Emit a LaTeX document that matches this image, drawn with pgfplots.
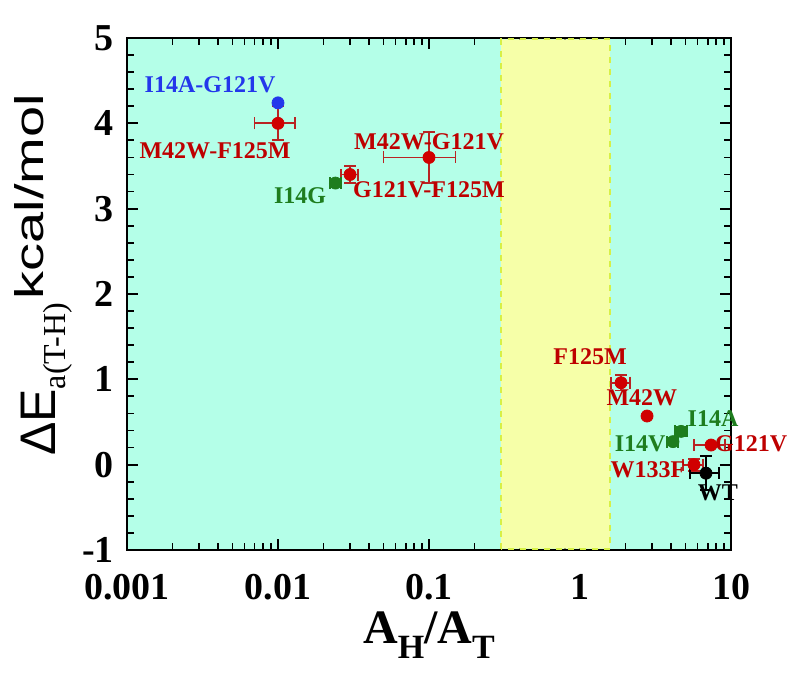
\documentclass[border=0pt]{standalone}
\usepackage{fontspec}
\setmainfont{Liberation Serif}
\setsansfont{Liberation Sans}
\usepackage{pgfplots}
\pgfplotsset{compat=1.18}
\definecolor{bgcyan}{RGB}{180,255,232}
\definecolor{bandyellow}{RGB}{246,255,168}
\definecolor{banddash}{RGB}{215,240,70}
\definecolor{mred}{RGB}{208,0,0}
\definecolor{ered}{RGB}{185,35,35}
\definecolor{lred}{RGB}{190,0,0}
\definecolor{mgreen}{RGB}{30,125,30}
\definecolor{mblue}{RGB}{35,55,235}
\begin{document}
\begin{tikzpicture}
\begin{axis}[
  scale only axis,
  width=302pt, height=256pt,
  xmode=log,
  xmin=0.001, xmax=10, ymin=-1, ymax=5,
  axis background/.style={fill=bgcyan},
  axis line style={line width=1.2pt},
  clip=false,
  xtick={0.001,0.01,0.1,1,10},
  xticklabels={0.001,0.01,0.1,1,10},
  minor xtick={0.002,0.003,0.004,0.005,0.006,0.007,0.008,0.009,0.02,0.03,0.04,0.05,0.06,0.07,0.08,0.09,0.2,0.3,0.4,0.5,0.6,0.7,0.8,0.9,2,3,4,5,6,7,8,9},
  ytick={-1,0,1,2,3,4,5},
  yticklabels={\raisebox{-3pt}{-1},0,1,2,3,4,5},
  minor y tick num=4,
  tick align=inside,
  major tick length=5.5pt, minor tick length=3.5pt,
  tick style={line width=0.9pt, black},
  ticklabel style={font=\fontsize{19}{22}\selectfont\bfseries},
  xticklabel style={anchor=center, yshift=-18.5pt, inner sep=0pt},
  yticklabel style={anchor=east, xshift=-3pt},
  xlabel={\fontsize{24}{28}\selectfont\bfseries A\raisebox{-7.5pt}{\fontsize{17}{20}\selectfont H}/A\raisebox{-7.5pt}{\fontsize{17}{20}\selectfont T}},
  xlabel style={at={(rel axis cs:0.5,-0.182)}, anchor=base, inner sep=0pt},
  ylabel={{\fontsize{25}{30}\selectfont\sffamily ΔE}\raisebox{-5pt}{\fontsize{16}{19}\selectfont a(T-H)}\hspace{2pt}\raisebox{6pt}{\scalebox{1.4}[1]{\fontsize{20}{24}\selectfont\sffamily kcal/mol}}},
  ylabel style={at={(rel axis cs:-0.119,0.170)}, anchor=base west},
]
% yellow band
\addplot[fill=bandyellow, draw=banddash, dashed, line width=0.8pt] coordinates {(0.3,-0.985) (0.3,4.985) (1.58,4.985) (1.58,-0.985) (0.3,-0.985)};
% red series
\addplot[only marks, mark=*, mark size=3pt, color=mred,
  error bars/.cd, x dir=both, x explicit, y dir=both, y explicit,
  error bar style={color=ered, line width=0.9pt}, error mark options={color=ered, rotate=90, mark size=3pt, line width=0.9pt}]
  coordinates {
  (0.01,4.0) +- (0.003,0.2)
  (0.1,3.6) +- (0.05,0.3)
  (0.03,3.4) +- (0.004,0.1)
  (1.87,0.96) +- (0.27,0.09)
  (2.78,0.57) +- (0,0)
  (7.38,0.23) +- (1.7,0)
  (5.69,0.0) +- (0.86,0.07)
  };
% green series
\addplot[only marks, mark=*, mark size=3pt, color=mgreen,
  error bars/.cd, x dir=both, x explicit, y dir=both, y explicit,
  error bar style={color=mgreen, line width=0.9pt}, error mark options={color=mgreen, rotate=90, mark size=3pt, line width=0.9pt}]
  coordinates {
  (0.024,3.30) +- (0.002,0.04)
  (4.67,0.39) +- (0.42,0.05)
  (4.13,0.27) +- (0.35,0.04)
  };
% blue
\addplot[only marks, mark=*, mark size=3pt, color=mblue] coordinates {(0.01,4.24)};
% black
\addplot[only marks, mark=*, mark size=3pt, color=black,
  error bars/.cd, x dir=both, x explicit, y dir=both, y explicit,
  error bar style={color=black, line width=0.9pt}, error mark options={color=black, rotate=90, mark size=3pt, line width=0.9pt}]
  coordinates {(6.83,-0.10) +- (1.5,0.2)};
% labels
\tikzset{lab/.style={font=\fontsize{12}{14}\selectfont\bfseries, inner sep=0pt}}
\node[lab, text=mblue] at (axis cs:0.00355,4.45) {I14A-G121V};
\node[lab, text=lred] at (axis cs:0.00383,3.68) {M42W-F125M};
\node[lab, text=lred] at (axis cs:0.1,3.79) {M42W-G121V};
\node[lab, text=lred] at (axis cs:0.1,3.22) {G121V-F125M};
\node[lab, text=mgreen] at (axis cs:0.014,3.15) {I14G};
\node[lab, text=lred] at (axis cs:1.165,1.26) {F125M};
\node[lab, text=lred] at (axis cs:2.57,0.78) {M42W};
\node[lab, text=mgreen] at (axis cs:7.6,0.535) {I14A};
\node[lab, text=mgreen] at (axis cs:2.5,0.25) {I14V};
\node[lab, text=lred] at (axis cs:13.6,0.24) {G121V};
\node[lab, text=lred] at (axis cs:2.82,-0.06) {W133F};
\node[lab, text=black] at (axis cs:8.2,-0.33) {WT};
\end{axis}
\pgfresetboundingbox
\path[use as bounding box] ([shift={(-63.5pt,-63pt)}]current axis.south west) rectangle ([shift={(37.5pt,19pt)}]current axis.north east);
\end{tikzpicture}
\end{document}
